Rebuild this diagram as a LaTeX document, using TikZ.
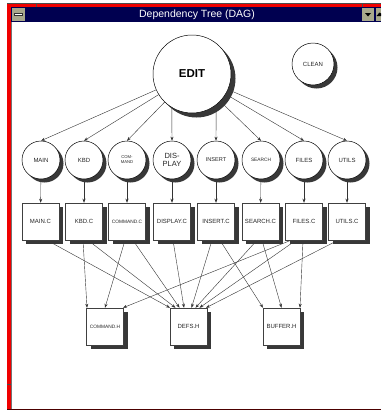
\documentclass[tikz,border=0pt]{standalone}
\usepackage{fontspec}
\setmainfont{Liberation Sans}
\usetikzlibrary{arrows.meta,shadows}
\pgfdeclarelayer{back}
\pgfdeclarelayer{bg}
\pgfsetlayers{back,bg,main}
\definecolor{navy}{RGB}{0,0,80}
\definecolor{frame}{RGB}{240,0,0}
\definecolor{btn}{RGB}{168,168,140}
\begin{document}
\begin{tikzpicture}[x=1pt,y=-1pt,
  csh/.style={drop shadow={shadow xshift=3.5pt,shadow yshift=-3.5pt,fill=black!78,opacity=1}},
  bsh/.style={drop shadow={shadow xshift=4pt,shadow yshift=-4pt,fill=black!78,opacity=1}},
  mod/.style={circle,draw=black,line width=0.5pt,fill=white,minimum size=38pt,inner sep=0pt,
    font=\fontsize{6}{7}\selectfont,align=center,text=black!85},
  srcfile/.style={rectangle,draw=black!75,line width=0.5pt,fill=white,minimum size=37pt,inner sep=0pt,
    font=\fontsize{6}{7}\selectfont,text=black!85},
  dep/.style={draw=black!80,line width=0.4pt,-{Stealth[length=4pt,width=3pt]}},
]
\useasboundingbox (0,0) rectangle (381,410);
\begin{pgfonlayer}{back}
% window frame
\fill[white] (0,0) rectangle (381,410);
\fill[frame] (7,3) rectangle (381,410);
\draw[black!70,line width=0.6pt] (7,3.3) -- (381,3.3);
\fill[white] (11,22) rectangle (381,408.5);
\draw[black!55,line width=0.5pt] (11.2,22) -- (11.2,408.5);
\draw[black!70!red,line width=1pt] (7,409.5) -- (381,409.5);
\draw[black!70,line width=0.6pt] (36,3) -- (36,7);
\draw[black!70,line width=0.6pt] (362,3) -- (362,7);
\draw[black!70,line width=0.6pt] (7,384) -- (11,384);
% title bar
\fill[navy] (11,7) rectangle (381,22);
\fill[btn] (12,8) rectangle (25,21);
\draw[black!80,fill=white,line width=0.4pt] (14.5,13.5) rectangle (22.5,15.5);
\fill[btn] (362,8) rectangle (374,21);
\fill[btn] (375.5,8) rectangle (381,21);
\fill[black] (365,13) -- (371,13) -- (368,16.5) -- cycle;
\fill[black] (376.5,16) -- (381,16) -- (381,13.5) -- (379.5,12.5) -- cycle;
\end{pgfonlayer}
\node[text=white,font=\fontsize{10.5}{12}\selectfont,inner sep=0pt] (title) at (197,14.5) {Dependency Tree (DAG)};

% nodes
\node[mod,minimum size=78pt,font=\bfseries\fontsize{11.5}{13}\selectfont,text=black,
  drop shadow={shadow xshift=4.5pt,shadow yshift=-4.5pt,fill=black!78,opacity=1}] (edit) at (192,74) {EDIT};
\node[mod,csh,minimum size=42pt] (clean) at (313,64) {CLEAN};

\node[mod,csh] (main) at (41,160) {MAIN};
\node[mod,csh] (kbd) at (84,160) {KBD};
\node[mod,csh,font=\fontsize{4.2}{5}\selectfont] (command) at (127,160) {COM-\\MAND};
\node[mod,csh,font=\fontsize{7.5}{8.5}\selectfont] (display) at (172,160) {DIS-\\PLAY};
\node[mod,csh,font=\fontsize{5.6}{7}\selectfont] (insert) at (216,160) {INSERT};
\node[mod,csh,font=\fontsize{4.8}{6}\selectfont] (search) at (261,160) {SEARCH};
\node[mod,csh] (files) at (304,160) {FILES};
\node[mod,csh] (utils) at (347,160) {UTILS};

\node[srcfile,bsh] (mainc) at (40.5,221.5) {MAIN.C};
\node[srcfile,bsh] (kbdc) at (84,221.5) {KBD.C};
\node[srcfile,bsh,font=\fontsize{4.8}{6}\selectfont] (commandc) at (127,221.5) {COMMAND.C};
\node[srcfile,bsh] (displayc) at (172,221.5) {DISPLAY.C};
\node[srcfile,bsh] (insertc) at (216,221.5) {INSERT.C};
\node[srcfile,bsh] (searchc) at (260.5,221.5) {SEARCH.C};
\node[srcfile,bsh] (filesc) at (304,221.5) {FILES.C};
\node[srcfile,bsh] (utilsc) at (347,221.5) {UTILS.C};

\node[srcfile,bsh,font=\fontsize{4.8}{6}\selectfont] (commandh) at (105,326.5) {COMMAND.H};
\node[srcfile,bsh] (defsh) at (188.5,326.5) {DEFS.H};
\node[srcfile,bsh] (bufferh) at (281.5,326.5) {BUFFER.H};

\begin{pgfonlayer}{bg}
% EDIT -> modules
\draw[dep] (edit) -- (main.north);
\draw[dep] (edit) -- (kbd.north);
\draw[dep] (edit) -- (command.north);
\draw[dep] (edit.239) -- (display.north);
\draw[dep] (edit.308) -- (insert.north);
\draw[dep] (edit) -- (search.north);
\draw[dep] (edit) -- (files.north);
\draw[dep] (edit) -- (utils.north);
% modules -> .C
\draw[dep] (main) -- (mainc);
\draw[dep] (kbd) -- (kbdc);
\draw[dep] (command) -- (commandc);
\draw[dep] (display) -- (displayc);
\draw[dep] (insert) -- (insertc);
\draw[dep] (search) -- (searchc);
\draw[dep] (files) -- (filesc);
\draw[dep] (utils) -- (utilsc);
% .C -> .H
\draw[dep] ([xshift=6.5pt]mainc.south) -- ([xshift=-18.5pt]defsh.north);
\draw[dep] ([xshift=-1pt]kbdc.south) -- ([xshift=-18pt]commandh.north);
\draw[dep] ([xshift=4pt]kbdc.south) -- ([xshift=-13pt]defsh.north);
\draw[dep] ([xshift=-2pt]commandc.south) -- (commandh.north);
\draw[dep] ([xshift=6pt]commandc.south) -- ([xshift=-9pt]defsh.north);
\draw[dep] ([xshift=1pt]displayc.south) -- ([xshift=-4.5pt]defsh.north);
\draw[dep] ([xshift=-4pt]insertc.south) -- ([xshift=3pt]defsh.north);
\draw[dep] ([xshift=4pt]insertc.south) -- ([xshift=-18.5pt]bufferh.north);
\draw[dep] ([xshift=-3.5pt]searchc.south) -- ([xshift=7pt]defsh.north);
\draw[dep] ([xshift=1.5pt]searchc.south) -- (bufferh.north);
\draw[dep] ([xshift=-13pt]filesc.south) -- ([xshift=18pt]commandh.north);
\draw[dep] ([xshift=-8pt]filesc.south) -- ([xshift=11pt]defsh.north);
\draw[dep] ([xshift=-1pt]filesc.south) -- ([xshift=18.5pt]bufferh.north);
\draw[dep] ([xshift=-9pt]utilsc.south) -- ([xshift=17.5pt]defsh.north);
\end{pgfonlayer}
\end{tikzpicture}
\end{document}
